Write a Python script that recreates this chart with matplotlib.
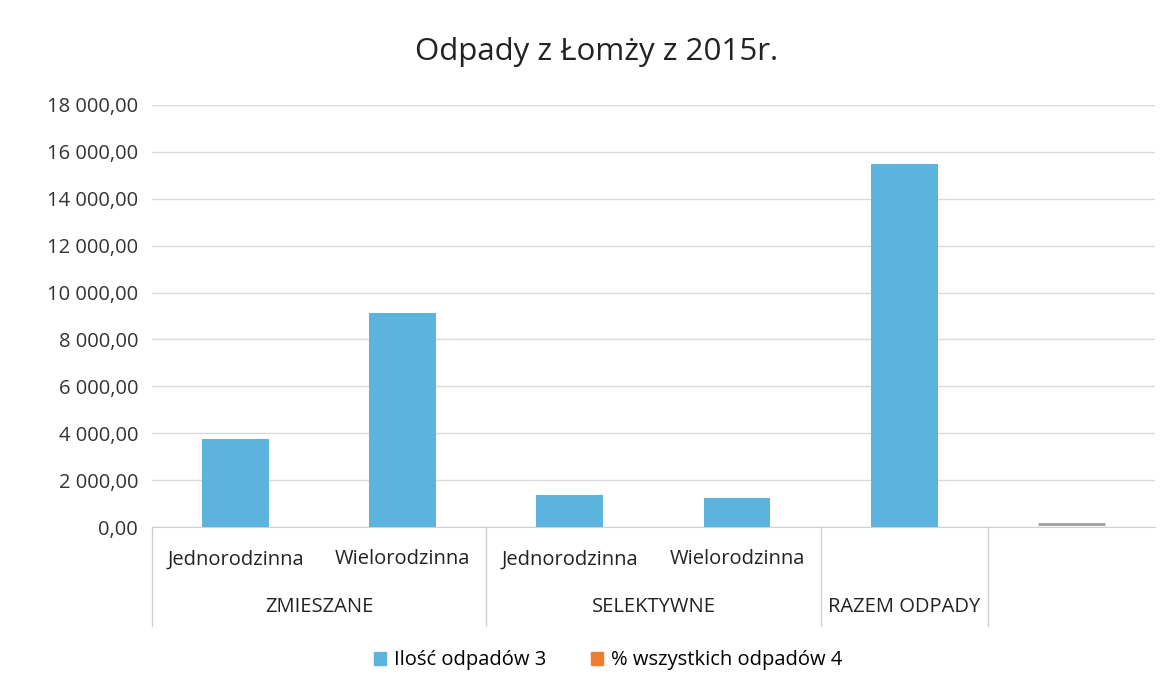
import matplotlib.pyplot as plt
from matplotlib.patches import Patch
from matplotlib.transforms import blended_transform_factory

plt.rcParams['font.family'] = ['Open Sans', 'DejaVu Sans']

categories = ['Jednorodzinna', 'Wielorodzinna', 'Jednorodzinna', 'Wielorodzinna', '', '']
groups = ['ZMIESZANE', 'SELEKTYWNE', 'RAZEM ODPADY']
group_spans = [(0, 1), (2, 3), (4, 4)]
ilosc = [3750, 9150, 1350, 1250, 15500, 0]
series_names = ['Ilość odpadów 3', '% wszystkich odpadów 4']
yticks = [0, 2000, 4000, 6000, 8000, 10000, 12000, 14000, 16000, 18000]

blue = '#5BB3DE'
orange = '#ED7D31'

fig = plt.figure(figsize=(11.7, 6.9), dpi=100)
ax = fig.add_axes([0.130, 0.236, 0.857, 0.612])

x = list(range(len(categories)))
ax.bar(x, ilosc, width=0.4, color=blue, zorder=3)
# thin grey stub in last slot
ax.hlines(120, 5 - 0.2, 5 + 0.2, color='#A0A0A0', lw=2, zorder=3)

ax.set_xlim(-0.5, 5.5)
ax.set_ylim(0, 18000)
ax.set_yticks(yticks)
ax.set_yticklabels([f'{v:,.2f}'.replace(',', ' ').replace('.', ',') for v in yticks],
                   fontsize=14.5, color='#333333')
ax.grid(axis='y', color='#DADADA', lw=1, zorder=0)
for s in ['top', 'right', 'left']:
    ax.spines[s].set_visible(False)
ax.spines['bottom'].set_color('#D0D0D0')
ax.tick_params(axis='y', length=0, pad=10)
ax.set_xticks(x)
ax.set_xticklabels(categories, fontsize=14.5, color='#222222')
ax.tick_params(axis='x', length=0, pad=16)

trans = blended_transform_factory(ax.transData, ax.transAxes)
for name, (a, b) in zip(groups, group_spans):
    ax.text((a + b) / 2, -0.19, name, transform=trans, ha='center', va='center',
            fontsize=14.5, color='#222222')
for sep in [-0.5, 1.5, 3.5, 4.5]:
    ax.plot([sep, sep], [0, -0.235], transform=trans, color='#D0D0D0', lw=1, clip_on=False)

fig.suptitle('Odpady z Łomży z 2015r.', x=0.51, y=0.925, va='center',
             fontsize=22.5, color='#222222')

handles = [Patch(color=blue), Patch(color=orange)]
fig.legend(handles, series_names, loc='center', bbox_to_anchor=(0.52, 0.043), ncol=2,
           frameon=False, fontsize=14.5, handlelength=0.6, handleheight=0.6,
           columnspacing=2.2, handletextpad=0.4)

fig.savefig('out.png', dpi=100)
